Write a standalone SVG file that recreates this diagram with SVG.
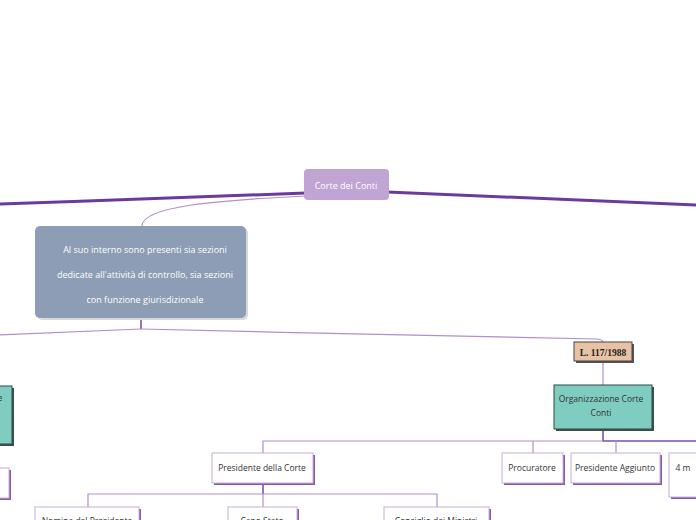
<svg xmlns="http://www.w3.org/2000/svg" width="696" height="520" viewBox="0 0 696 520">
<defs>
<style>
.t{font-family:"Open Sans","Liberation Sans",sans-serif;font-size:8.5px;fill:#333;text-anchor:middle}
.tw{font-family:"Open Sans","Liberation Sans",sans-serif;font-size:9px;fill:#fff;text-anchor:middle}
.thick{fill:none;stroke:#6b3a9e;stroke-width:3;stroke-linecap:round}
.thin{fill:none;stroke:#b08fcc;stroke-width:1.2}
.mid{fill:none;stroke:#7d4fae;stroke-width:1.6}
.wb{fill:#fff;stroke:#c6aed8;stroke-width:1}
.ws{fill:#8a5aaa}
.tb{fill:#7ecdc0;stroke:#2f4a44;stroke-width:1}
.ts{fill:#3f4f4b}
</style>
</defs>
<rect width="696" height="520" fill="#fff"/>
<g id="connectors">
<path class="thick" d="M306,193 C200,197 100,201 -2,204"/>
<path class="thick" d="M387,192 C500,196 600,201 698,205"/>
<path class="thin" d="M306,196 C220,200 142,206 142,226"/>
<path class="mid" d="M141,318 L141,329"/>
<path class="thin" d="M141,329 C100,331 50,333 -2,335"/>
<path class="thin" d="M141,329 C300,333 500,337 596,339 Q603,339 603,343"/>
<path class="thin" d="M603,361 L603,385"/>
<path class="mid" d="M603,429 L603,441 L698,441"/>
<path class="thin" d="M263,453 L263,441 L603,441"/>
<path class="thin" d="M533,441 L533,453"/>
<path class="thin" d="M616,441 L616,453"/>
<path class="mid" d="M263,483 L263,494"/>
<path class="thin" d="M88,507 L88,494 L437,494 L437,507"/>
<path class="thin" d="M263,494 L263,507"/>
</g>
<g id="corte-dei-conti">
<rect x="304" y="169" width="85" height="31" rx="4" fill="#c0a5d4"/>
<text class="tw" x="346" y="189">Corte dei Conti</text>
</g>
<g id="sezioni">
<rect x="37" y="228" width="211" height="92" rx="5" fill="#d8d8d8"/>
<rect x="35" y="226" width="211" height="92" rx="5" fill="#8c9db5"/>
<text class="tw" x="145" y="253">Al suo interno sono presenti sia sezioni</text>
<text class="tw" x="145" y="278">dedicate all'attività di controllo, sia sezioni</text>
<text class="tw" x="145" y="303">con funzione giurisdizionale</text>
</g>
<g id="legge">
<rect x="576" y="344" width="58" height="19" fill="#555"/>
<rect x="574" y="342" width="58" height="19" fill="#e8c2a4" stroke="#444" stroke-width="1"/>
<text x="603" y="355.5" font-family="Liberation Serif,serif" font-weight="bold" font-size="9.5" fill="#222" text-anchor="middle">L. 117/1988</text>
</g>
<g id="organizzazione">
<rect x="556" y="387" width="98" height="44" class="ts"/>
<rect x="554" y="385" width="98" height="44" class="tb"/>
<text class="t" x="601" y="402">Organizzazione Corte</text>
<text class="t" x="601" y="416">Conti</text>
</g>
<g id="left-teal">
<rect x="-10" y="388" width="24" height="58" class="ts"/>
<rect x="-12" y="386" width="24" height="58" class="tb"/>
<text class="t" x="0" y="401" text-anchor="start">e</text>
</g>
<g id="left-white">
<rect x="-10" y="470" width="21" height="30" class="ws"/>
<rect x="-12" y="468" width="21" height="30" class="wb"/>
</g>
<g id="presidente-corte">
<rect x="214" y="455" width="101" height="30" class="ws"/>
<rect x="212" y="453" width="101" height="30" class="wb"/>
<text class="t" x="262" y="471">Presidente della Corte</text>
</g>
<g id="procuratore">
<rect x="504" y="455" width="61" height="30" class="ws"/>
<rect x="502" y="453" width="61" height="30" class="wb"/>
<text class="t" x="532" y="471">Procuratore</text>
</g>
<g id="presidente-aggiunto">
<rect x="573" y="455" width="89" height="30" class="ws"/>
<rect x="571" y="453" width="89" height="30" class="wb"/>
<text class="t" x="615" y="471">Presidente Aggiunto</text>
</g>
<g id="membri">
<rect x="671" y="455" width="40" height="44" class="ws"/>
<rect x="669" y="453" width="40" height="44" class="wb"/>
<text class="t" x="683" y="471" text-anchor="start">4 m</text>
</g>
<g id="nomina">
<rect x="37" y="509" width="104" height="30" class="ws"/>
<rect x="35" y="507" width="104" height="30" class="wb"/>
<text class="t" x="87" y="524">Nomina del Presidente</text>
</g>
<g id="capo-stato">
<rect x="230" y="509" width="69" height="30" class="ws"/>
<rect x="228" y="507" width="69" height="30" class="wb"/>
<text class="t" x="262" y="524">Capo Stato</text>
</g>
<g id="consiglio">
<rect x="386" y="509" width="105" height="30" class="ws"/>
<rect x="384" y="507" width="105" height="30" class="wb"/>
<text class="t" x="436" y="524">Consiglio dei Ministri</text>
</g>
</svg>
